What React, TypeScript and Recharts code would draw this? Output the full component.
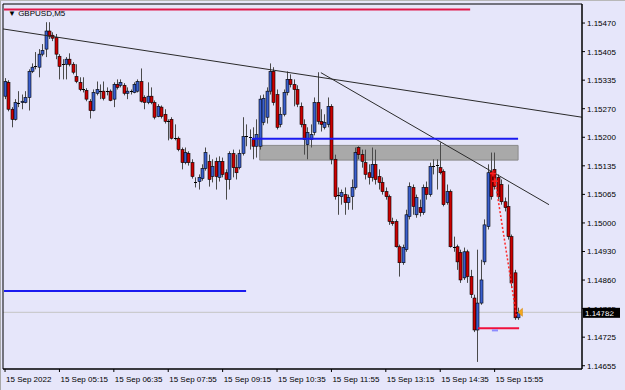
import React from "react";
import {
  ComposedChart,
  Bar,
  XAxis,
  YAxis,
  ReferenceLine,
  ReferenceArea,
  ReferenceDot,
} from "recharts";

const FONT = "'Liberation Sans', Arial, sans-serif";
const BG = "#e6e6fa";
const BULL = "#3a5fcd";
const BEAR = "#cc0000";

// time axis: one label every 16 five-minute bars
const X_TICK_INDEX = [0, 16, 32, 48, 64, 80, 96, 112, 128, 144];
const X_TICK_LABELS = [
  "15 Sep 2022", "15 Sep 05:15", "15 Sep 06:35", "15 Sep 07:55", "15 Sep 09:15",
  "15 Sep 10:35", "15 Sep 11:55", "15 Sep 13:15", "15 Sep 14:35", "15 Sep 15:55",
];
const Y_TICK_LABELS = [
  "1.15470", "1.15405", "1.15335", "1.15270", "1.15200", "1.15135", "1.15065",
  "1.15000", "1.14930", "1.14860", "1.14785", "1.14725", "1.14655",
];

const OPEN = [
  1.15296, 1.15329, 1.15265, 1.15241, 1.15281, 1.15281, 1.15281, 1.15293, 1.15355, 1.15365,
  1.15365, 1.15396, 1.15408, 1.15451, 1.15441, 1.15436, 1.15391, 1.15372, 1.15372, 1.15384,
  1.15372, 1.15343, 1.15329, 1.15312, 1.1531, 1.15284, 1.15262, 1.15303, 1.15308, 1.15308,
  1.15308, 1.15308, 1.15289, 1.15324, 1.15322, 1.15322, 1.15303, 1.15308, 1.15305, 1.15308,
  1.15331, 1.15293, 1.15281, 1.15296, 1.15281, 1.15248, 1.1527, 1.15253, 1.15238, 1.15241,
  1.15196, 1.15196, 1.15169, 1.15138, 1.1516, 1.15138, 1.15093, 1.15093, 1.151, 1.15124,
  1.15141, 1.15105, 1.15141, 1.15103, 1.15141, 1.15114, 1.15098, 1.1516, 1.15126, 1.15126,
  1.1516, 1.152, 1.15198, 1.15193, 1.15177, 1.15177, 1.15234, 1.15246, 1.15308, 1.15355,
  1.153, 1.15229, 1.15253, 1.15305, 1.15336, 1.15324, 1.15312, 1.15272, 1.15229, 1.15181,
  1.15193, 1.1521, 1.15281, 1.15236, 1.15222, 1.15229, 1.15272, 1.15146, 1.15062, 1.15057,
  1.15062, 1.15043, 1.15057, 1.15079, 1.15174, 1.15157, 1.15138, 1.15114, 1.15103, 1.15134,
  1.15105, 1.15091, 1.15069, 1.15057, 1.14998, 1.14998, 1.14938, 1.149, 1.14931, 1.1501,
  1.15079, 1.15014, 1.15031, 1.15019, 1.15079, 1.15062, 1.15131, 1.15131, 1.15126, 1.15117,
  1.15043, 1.15069, 1.14938, 1.14938, 1.14924, 1.14864, 1.14926, 1.14867, 1.14816, 1.1474,
  1.14804, 1.14902, 1.14986, 1.15117, 1.15122, 1.15103, 1.15086, 1.15045, 1.15034, 1.14962,
  1.14876, 1.14769,
];
const HIGH = [
  1.15339, 1.15334, 1.1527, 1.15289, 1.15308, 1.153, 1.15308, 1.1536, 1.15374, 1.15401,
  1.15408, 1.1542, 1.15472, 1.15472, 1.15448, 1.15444, 1.15396, 1.15384, 1.15389, 1.15398,
  1.15377, 1.15372, 1.15341, 1.15341, 1.15315, 1.15289, 1.15312, 1.15331, 1.15324, 1.15331,
  1.15317, 1.15312, 1.15329, 1.15336, 1.15336, 1.15327, 1.15317, 1.15312, 1.15329, 1.15336,
  1.15362, 1.15298, 1.15329, 1.15317, 1.15286, 1.15277, 1.15274, 1.15265, 1.15241, 1.15246,
  1.15229, 1.152, 1.15174, 1.15174, 1.15165, 1.15146, 1.15103, 1.1511, 1.15134, 1.15174,
  1.15157, 1.15146, 1.1515, 1.15153, 1.1515, 1.15122, 1.15165, 1.15169, 1.15157, 1.15169,
  1.15246, 1.15229, 1.15217, 1.15222, 1.15241, 1.15298, 1.153, 1.15317, 1.15374, 1.15365,
  1.15312, 1.1527, 1.15312, 1.15355, 1.15348, 1.15336, 1.15322, 1.15281, 1.15241, 1.15222,
  1.15229, 1.15293, 1.15353, 1.15265, 1.15253, 1.15293, 1.15277, 1.15157, 1.15079, 1.15074,
  1.15079, 1.15062, 1.15098, 1.15174, 1.15177, 1.15169, 1.15169, 1.15134, 1.15174, 1.15169,
  1.15122, 1.15103, 1.15079, 1.15062, 1.15007, 1.15003, 1.14943, 1.14943, 1.15026, 1.15091,
  1.15086, 1.15062, 1.1505, 1.15086, 1.15093, 1.15138, 1.15146, 1.15146, 1.15186, 1.15122,
  1.15086, 1.15074, 1.14962, 1.14943, 1.14931, 1.14936, 1.14931, 1.14883, 1.14824, 1.14931,
  1.14907, 1.15003, 1.15134, 1.15162, 1.15162, 1.1511, 1.15098, 1.15055, 1.15086, 1.14967,
  1.14883, 1.14793,
];
const LOW = [
  1.15289, 1.1526, 1.15222, 1.15238, 1.1527, 1.15265, 1.15279, 1.15262, 1.15351, 1.1536,
  1.15341, 1.15391, 1.15389, 1.15432, 1.15427, 1.15384, 1.15336, 1.15336, 1.15336, 1.15367,
  1.15348, 1.15327, 1.15308, 1.15305, 1.15284, 1.15243, 1.1526, 1.15298, 1.15289, 1.15286,
  1.15298, 1.15284, 1.1527, 1.15312, 1.15317, 1.15298, 1.15289, 1.153, 1.15303, 1.15305,
  1.15281, 1.15265, 1.15277, 1.15277, 1.15241, 1.15246, 1.15243, 1.15231, 1.15191, 1.15193,
  1.15191, 1.15165, 1.15122, 1.15134, 1.15131, 1.151, 1.15079, 1.15074, 1.15095, 1.15119,
  1.15081, 1.15091, 1.15074, 1.15093, 1.15103, 1.1505, 1.15074, 1.15103, 1.15098, 1.15122,
  1.15155, 1.15177, 1.15169, 1.15146, 1.1515, 1.15169, 1.15227, 1.15231, 1.153, 1.15274,
  1.15217, 1.15222, 1.15248, 1.15298, 1.15317, 1.15272, 1.1527, 1.15222, 1.15157, 1.15146,
  1.15174, 1.15203, 1.15229, 1.15212, 1.15217, 1.15222, 1.15134, 1.1505, 1.15014, 1.15038,
  1.15014, 1.15026, 1.15026, 1.15074, 1.15146, 1.15126, 1.15098, 1.15086, 1.15093, 1.15086,
  1.15074, 1.15062, 1.1505, 1.1499, 1.14988, 1.14936, 1.14867, 1.14895, 1.14926, 1.15003,
  1.15014, 1.15007, 1.1501, 1.15014, 1.1505, 1.15057, 1.1511, 1.15074, 1.1511, 1.15034,
  1.15038, 1.14936, 1.14926, 1.14883, 1.14852, 1.14859, 1.14852, 1.14816, 1.14735, 1.14664,
  1.148, 1.14895, 1.14979, 1.1505, 1.15074, 1.1505, 1.15038, 1.15022, 1.14955, 1.1484,
  1.14764, 1.14764,
];
const CLOSE = [
  1.15331, 1.15265, 1.15241, 1.15281, 1.15279, 1.15284, 1.15293, 1.15355, 1.15365, 1.15367,
  1.15396, 1.15405, 1.15451, 1.15439, 1.15434, 1.15396, 1.15367, 1.15371, 1.15384, 1.15372,
  1.15353, 1.15331, 1.15312, 1.15311, 1.15289, 1.15262, 1.15305, 1.15312, 1.15307, 1.15291,
  1.15309, 1.15286, 1.15324, 1.15317, 1.15329, 1.15303, 1.15308, 1.15307, 1.15324, 1.15331,
  1.15284, 1.15281, 1.15296, 1.15281, 1.15246, 1.15272, 1.15248, 1.15236, 1.15237, 1.15196,
  1.15197, 1.15169, 1.15138, 1.15162, 1.15138, 1.15105, 1.15092, 1.15103, 1.15124, 1.15162,
  1.15098, 1.15129, 1.15105, 1.15141, 1.1511, 1.15098, 1.1516, 1.15126, 1.15114, 1.1516,
  1.152, 1.15201, 1.152, 1.15177, 1.15205, 1.15289, 1.15291, 1.15308, 1.15355, 1.15281,
  1.15222, 1.15253, 1.15305, 1.15336, 1.15324, 1.15312, 1.15277, 1.15229, 1.15193, 1.1521,
  1.15205, 1.15281, 1.15236, 1.15229, 1.15234, 1.15272, 1.15146, 1.15057, 1.15061, 1.15067,
  1.15043, 1.15055, 1.15079, 1.15162, 1.15157, 1.15141, 1.1511, 1.15103, 1.15134, 1.15098,
  1.15091, 1.15069, 1.15057, 1.14998, 1.14993, 1.14938, 1.149, 1.14936, 1.15014, 1.15081,
  1.15034, 1.15055, 1.15019, 1.15079, 1.15062, 1.15129, 1.1513, 1.15132, 1.15114, 1.15038,
  1.15069, 1.14938, 1.14937, 1.14902, 1.14859, 1.14926, 1.14867, 1.14824, 1.1474, 1.14804,
  1.14859, 1.1499, 1.15114, 1.15057, 1.15081, 1.15057, 1.15045, 1.15031, 1.14962, 1.14852,
  1.14769, 1.14782,
];

// chart objects (bar index / price)
const X_DOMAIN: [number, number] = [-0.6, 169.7];
const Y_DOMAIN: [number, number] = [1.146472, 1.155153];
const TOP_LINE = { from: -0.3, to: 136.8, price: 1.15502 };
const TRENDS = [
  { x1: -0.6, p1: 1.15456, x2: 169.7, p2: 1.15246 },
  { x1: 92.9, p1: 1.15352, x2: 160.0, p2: 1.15038 },
];
const BLUE_LEVELS = [
  { from: 72.6, to: 150.9, price: 1.15195 },
  { from: -0.3, to: 70.9, price: 1.14833 },
];
const ZONE = { from: 74.9, to: 150.9, top: 1.15179, bottom: 1.15144 };
const BID = 1.14782;
const BID_LABEL = "1.14782";
const STOP_LINE = { from: 139.1, to: 151.2, price: 1.14744 };
const ORDER_MARK = { from: 143.2, to: 145.0, price: 1.14739 };
const TRADE_POINTS = [
  { i: 143.5, p: 1.15112 },
  { i: 144.1, p: 1.15094 },
];
const TRADE_PATH = { x1: 144.1, p1: 1.15098, x2: 150.4, p2: 1.14774 };
const ARROW = { i: 151.6, p: 1.14782 };

const rows = OPEN.map((o, i) => ({
  i,
  o,
  h: HIGH[i],
  l: LOW[i],
  c: CLOSE[i],
  range: [LOW[i], HIGH[i]],
}));

const Y_STEP =
  (parseFloat(Y_TICK_LABELS[0]) - parseFloat(Y_TICK_LABELS[Y_TICK_LABELS.length - 1])) /
  (Y_TICK_LABELS.length - 1);
const Y_TICKS = Y_TICK_LABELS.map((_, k) => parseFloat(Y_TICK_LABELS[0]) - k * Y_STEP);

const Candle = (props: any) => {
  const { x, width, payload } = props;
  let { y, height } = props;
  if (height < 0) {
    y += height;
    height = -height;
  }
  const o = payload.o;
  const c = payload.c;
  const h = Math.max(payload.h, o, c);
  const l = Math.min(payload.l, o, c);
  const span = h - l || 1e-9;
  const py = (p: number) => y + ((h - p) / span) * height;
  const cx = Math.round(x + width / 2) + 0.5;
  const top = py(Math.max(o, c));
  const bot = py(Math.min(o, c));
  const up = c > o;
  const doji = Math.abs(bot - top) < 1.2;
  return (
    <g>
      <line x1={cx} x2={cx} y1={y} y2={y + height} stroke="#4a4a4a" strokeWidth={1} />
      {doji ? (
        <line x1={cx - 1.5} x2={cx + 1.5} y1={Math.round(top) + 0.5} y2={Math.round(top) + 0.5} stroke="#000" strokeWidth={1} />
      ) : (
        <rect
          x={cx - 1.5}
          y={top}
          width={3}
          height={bot - top}
          fill={up ? BULL : BEAR}
          stroke="#000"
          strokeWidth={0.6}
        />
      )}
    </g>
  );
};

const XTick = (props: any) => {
  const { x, y, payload } = props;
  const k = X_TICK_INDEX.indexOf(payload.value);
  return (
    <text x={x + 1} y={y + 10} fontSize={8} fontFamily={FONT} fill="#000" textAnchor="start">
      {X_TICK_LABELS[k]}
    </text>
  );
};

const YTick = (props: any) => {
  const { x, y, index } = props;
  return (
    <text x={x + 2} y={y + 3} fontSize={8} fontFamily={FONT} fill="#000" textAnchor="start">
      {Y_TICK_LABELS[index]}
    </text>
  );
};

const PriceTag = (props: any) => {
  const vb = props.viewBox || {};
  const x = (vb.x ?? 0) + (vb.width ?? 0) + 1;
  const y = vb.y ?? 0;
  return (
    <g>
      <rect x={x} y={y - 4.5} width={37} height={10} fill="#000" />
      <text x={x + 2} y={y + 3.5} fontSize={8} fontFamily={FONT} fill="#fff">
        {props.value}
      </text>
    </g>
  );
};

const Plus = (props: any) => {
  const { cx, cy } = props;
  return (
    <g stroke="#ff2020" strokeWidth={1.5}>
      <line x1={cx - 3} x2={cx + 3} y1={cy} y2={cy} />
      <line x1={cx} x2={cx} y1={cy - 3} y2={cy + 3} />
    </g>
  );
};

const Arrow = (props: any) => {
  const { cx, cy } = props;
  return (
    <polygon
      points={`${cx - 2.5},${cy} ${cx + 2},${cy - 4} ${cx + 2},${cy + 4}`}
      fill="#f4a81c"
      stroke="#d08000"
      strokeWidth={0.5}
    />
  );
};

const CHART_W = 625;
const CHART_H = 390;
const MARGIN = { top: 4, right: 1, left: 3, bottom: 0 };
const layerStyle: any = { position: "absolute", left: -1, top: -1 };

// background layer: same plot geometry, holds the filled zone (drawn under the candles)
function BackLayer() {
  return (
    <ComposedChart width={CHART_W} height={CHART_H} data={rows} margin={MARGIN} style={layerStyle}>
      <XAxis
        dataKey="i"
        type="number"
        domain={X_DOMAIN}
        allowDataOverflow
        ticks={X_TICK_INDEX}
        tick={false}
        tickLine={false}
        axisLine={false}
        height={21}
      />
      <YAxis
        orientation="right"
        type="number"
        domain={Y_DOMAIN}
        allowDataOverflow
        ticks={Y_TICKS}
        tick={false}
        tickLine={false}
        axisLine={false}
        width={42}
      />
      <ReferenceArea
        x1={ZONE.from}
        x2={ZONE.to}
        y1={ZONE.bottom}
        y2={ZONE.top}
        fill="#a9a9a9"
        fillOpacity={1}
        stroke="#8a8a8a"
      />
      <ReferenceLine y={BID} stroke="#c4c4c4" strokeWidth={1} />
    </ComposedChart>
  );
}

export default function App() {
  return (
    <div
      style={{
        position: "absolute",
        left: 0,
        top: 0,
        width: 625,
        height: 390,
        background: BG,
        overflow: "hidden",
        boxSizing: "border-box",
        borderLeft: "1px solid #a8a8a8",
        borderTop: "1px solid #b8b8b8",
      }}
    >
      <BackLayer />
      <ComposedChart width={CHART_W} height={CHART_H} data={rows} margin={MARGIN} style={layerStyle}>
        <XAxis
          dataKey="i"
          type="number"
          domain={X_DOMAIN}
          allowDataOverflow
          ticks={X_TICK_INDEX}
          interval={0}
          tick={<XTick />}
          tickSize={3}
          tickMargin={0}
          tickLine={{ stroke: "#000" }}
          axisLine={{ stroke: "#000" }}
          height={21}
        />
        <YAxis
          orientation="right"
          type="number"
          domain={Y_DOMAIN}
          allowDataOverflow
          ticks={Y_TICKS}
          interval={0}
          tick={<YTick />}
          tickSize={3}
          tickMargin={0}
          tickLine={{ stroke: "#000" }}
          axisLine={{ stroke: "#000" }}
          width={42}
        />
        <Bar dataKey="range" barSize={3} shape={<Candle />} isAnimationActive={false} />
        <ReferenceLine
          y={BID}
          stroke="none"
          label={{ value: BID_LABEL, content: PriceTag }}
        />
        <ReferenceLine
          segment={[
            { x: TOP_LINE.from, y: TOP_LINE.price },
            { x: TOP_LINE.to, y: TOP_LINE.price },
          ]}
          stroke="#e0184a"
          strokeWidth={2}
        />
        {TRENDS.map((t, k) => (
          <ReferenceLine
            key={"t" + k}
            segment={[
              { x: t.x1, y: t.p1 },
              { x: t.x2, y: t.p2 },
            ]}
            stroke="#2a2a2a"
            strokeWidth={1}
          />
        ))}
        {BLUE_LEVELS.map((b, k) => (
          <ReferenceLine
            key={"b" + k}
            segment={[
              { x: b.from, y: b.price },
              { x: b.to, y: b.price },
            ]}
            stroke="#1a1af0"
            strokeWidth={2}
          />
        ))}
        <ReferenceLine
          segment={[
            { x: STOP_LINE.from, y: STOP_LINE.price },
            { x: STOP_LINE.to, y: STOP_LINE.price },
          ]}
          stroke="#f0103c"
          strokeWidth={2}
        />
        <ReferenceLine
          segment={[
            { x: ORDER_MARK.from, y: ORDER_MARK.price },
            { x: ORDER_MARK.to, y: ORDER_MARK.price },
          ]}
          stroke="#8c8cff"
          strokeWidth={2}
        />
        <ReferenceLine
          segment={[
            { x: TRADE_PATH.x1, y: TRADE_PATH.p1 },
            { x: TRADE_PATH.x2, y: TRADE_PATH.p2 },
          ]}
          stroke="#ff2a2a"
          strokeWidth={1.5}
          strokeDasharray="2 2"
        />
        {TRADE_POINTS.map((t, k) => (
          <ReferenceDot key={"p" + k} x={t.i} y={t.p} r={3} shape={<Plus />} />
        ))}
        <ReferenceDot x={ARROW.i} y={ARROW.p} r={3} shape={<Arrow />} />
        <ReferenceArea
          x1={X_DOMAIN[0]}
          x2={X_DOMAIN[1]}
          y1={Y_DOMAIN[0]}
          y2={Y_DOMAIN[1]}
          fill="none"
          stroke="#000"
          strokeWidth={1}
        />
      </ComposedChart>
      <div
        style={{
          position: "absolute",
          left: 7,
          top: 8,
          fontFamily: FONT,
          fontSize: 8,
          lineHeight: "10px",
          color: "#000",
          whiteSpace: "nowrap",
        }}
      >
        ▼ GBPUSD,M5
      </div>
    </div>
  );
}
